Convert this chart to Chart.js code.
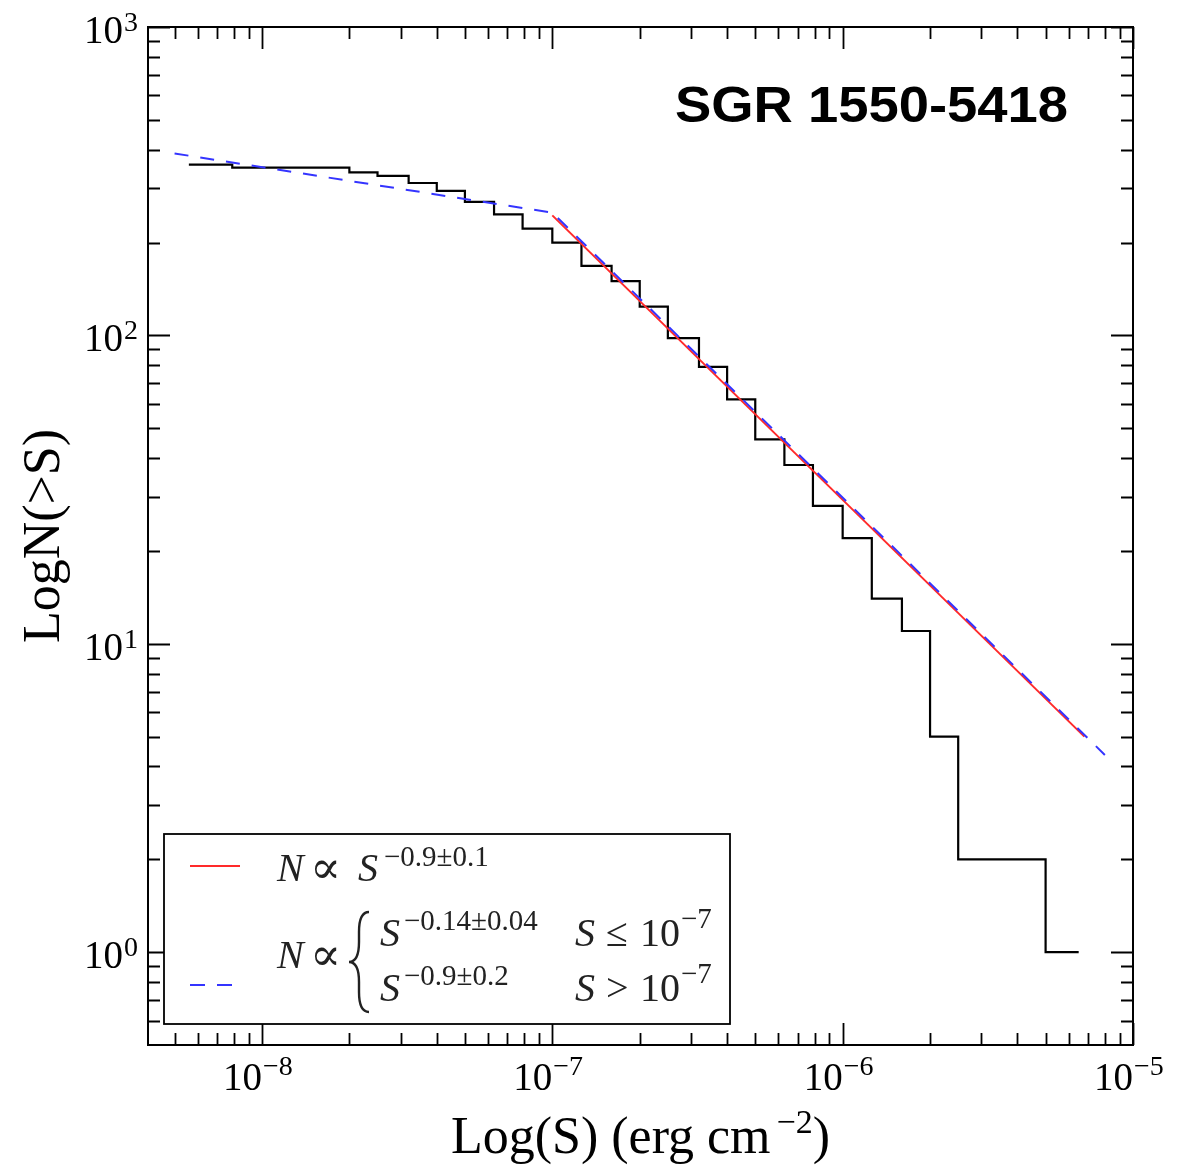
<!DOCTYPE html>
<html>
<head>
<meta charset="utf-8">
<script src="https://cdn.jsdelivr.net/npm/chart.js@4.4.0/dist/chart.umd.min.js"></script>
<style>
  html, body { margin: 0; padding: 0; background: #fff; }
  #wrap { width: 1188px; height: 1167px; }
</style>
</head>
<body>
<div id="wrap"><canvas id="lognChart" width="1188" height="1167"></canvas></div>
<script>
"use strict";

// Cumulative number of bursts above each fluence edge (erg cm^-2)
var fluenceEdges = [5.6e-9, 7.9e-9, 2.0e-8, 2.5e-8, 3.2e-8, 4.0e-8, 5.0e-8, 6.3e-8, 7.9e-8,
    1.0e-7, 1.26e-7, 1.6e-7, 2.0e-7, 2.5e-7, 3.2e-7, 4.0e-7, 5.0e-7, 6.3e-7, 7.9e-7,
    1.0e-6, 1.26e-6, 1.6e-6, 2.0e-6, 2.5e-6, 5.0e-6, 6.5e-6];
var cumulativeCounts = [358, 350, 338, 329, 312, 294, 271, 247, 222,
    200, 168, 150, 124, 98, 79, 62, 46, 38, 28,
    22, 14, 11, 5, 2, 1, 1];

// Single power law fit  N ~ S^-0.9
var singleFitS = [1.0e-7, 6.8e-6];
var singleFitN = [245, 5.0];

// Broken power law fit, break at 1e-7
var brokenFitS = [5.0e-9, 1.0e-7, 8.0e-6];
var brokenFitN = [389, 250, 4.36];

// Axis decades and their labels
var xDecades = [-8, -7, -6, -5];
var xTickExponents = ['\u22128', '\u22127', '\u22126', '\u22125'];
var yDecades = [0, 1, 2, 3];
var yTickExponents = ['0', '1', '2', '3'];

var RED = '#ff2a2a';
var BLUE = '#3434ff';
var SERIF = '"Liberation Serif", "DejaVu Serif", serif';

function toPoints(xs, ys) {
    return xs.map(function(x, i) { return { x: x, y: ys[i] }; });
}

function font(size, style) {
    return (style ? style + ' ' : '') + size + 'px ' + SERIF;
}

// draw a list of text runs at given positions
function drawRuns(ctx, runs) {
    runs.forEach(function(r) {
        ctx.font = r.f;
        ctx.textAlign = r.align || 'left';
        ctx.fillText(r.t, r.x, r.y);
    });
}

function drawBrace(ctx, x, top, bottom, w) {
    var mid = (top + bottom) / 2;
    var c = x + w / 2;
    ctx.beginPath();
    ctx.moveTo(x + w, top);
    ctx.quadraticCurveTo(c, top, c, top + w);
    ctx.lineTo(c, mid - w);
    ctx.quadraticCurveTo(c, mid, x, mid);
    ctx.quadraticCurveTo(c, mid, c, mid + w);
    ctx.lineTo(c, bottom - w);
    ctx.quadraticCurveTo(c, bottom, x + w, bottom);
    ctx.stroke();
}

var framePlugin = {
    id: 'frame',
    afterDraw: function(chart) {
        var ctx = chart.ctx;
        var a = chart.chartArea;
        var xs = chart.scales.x, ys = chart.scales.y;
        ctx.save();
        ctx.strokeStyle = '#000';
        ctx.fillStyle = '#000';

        // frame
        ctx.lineWidth = 2;
        ctx.strokeRect(a.left, a.top, a.right - a.left, a.bottom - a.top);

        // inward ticks on all four sides
        ctx.lineWidth = 1.8;
        var d, m, v, p, len;
        for (d = -9; d <= -5; d++) {
            for (m = 1; m <= 9; m++) {
                v = m * Math.pow(10, d);
                if (v < xs.min * 1.001 || v > xs.max * 1.001) continue;
                p = Math.round(xs.getPixelForValue(v)) + 0.5;
                len = m === 1 ? 22 : 12;
                ctx.beginPath();
                ctx.moveTo(p, a.bottom); ctx.lineTo(p, a.bottom - len);
                ctx.moveTo(p, a.top); ctx.lineTo(p, a.top + len);
                ctx.stroke();
            }
        }
        for (d = -1; d <= 3; d++) {
            for (m = 1; m <= 9; m++) {
                v = m * Math.pow(10, d);
                if (v < ys.min * 1.001 || v > ys.max * 1.001) continue;
                p = Math.round(ys.getPixelForValue(v)) + 0.5;
                len = m === 1 ? 22 : 12;
                ctx.beginPath();
                ctx.moveTo(a.left, p); ctx.lineTo(a.left + len, p);
                ctx.moveTo(a.right, p); ctx.lineTo(a.right - len, p);
                ctx.stroke();
            }
        }

        // tick labels
        ctx.textBaseline = 'alphabetic';
        xDecades.forEach(function(e, i) {
            var px = xs.getPixelForValue(Math.pow(10, e));
            drawRuns(ctx, [
                { t: '10', f: font(39), x: px, y: 1090, align: 'right' },
                { t: xTickExponents[i], f: font(28), x: px + 1, y: 1075 }
            ]);
        });
        yDecades.forEach(function(e, i) {
            var py = ys.getPixelForValue(Math.pow(10, e));
            ctx.font = font(28);
            var w = ctx.measureText(yTickExponents[i]).width;
            drawRuns(ctx, [
                { t: yTickExponents[i], f: font(28), x: 138, y: py + 4, align: 'right' },
                { t: '10', f: font(39), x: 137 - w, y: py + 16, align: 'right' }
            ]);
        });

        // x axis title with superscript
        ctx.font = font(52);
        var t1 = 'Log(S) (erg cm';
        var w1 = ctx.measureText(t1).width + 6;
        var w3 = ctx.measureText(')').width;
        ctx.font = font(34);
        var w2 = ctx.measureText('\u22122').width;
        var x0 = (a.left + a.right) / 2 - (w1 + w2 + w3) / 2;
        drawRuns(ctx, [
            { t: t1, f: font(52), x: x0, y: 1153 },
            { t: '\u22122', f: font(34), x: x0 + w1, y: 1133 },
            { t: ')', f: font(52), x: x0 + w1 + w2, y: 1153 }
        ]);

        // y axis title, rotated
        ctx.save();
        ctx.translate(59, (a.top + a.bottom) / 2);
        ctx.rotate(-Math.PI / 2);
        ctx.font = font(52);
        ctx.textAlign = 'center';
        ctx.fillText('LogN(>S)', 0, 0);
        ctx.restore();

        // source name
        ctx.save();
        ctx.font = 'bold 50px "Liberation Sans", Arial, sans-serif';
        ctx.textAlign = 'left';
        var tw = ctx.measureText('SGR 1550-5418').width;
        ctx.translate(675, 122);
        ctx.scale(393 / tw, 1);
        ctx.fillText('SGR 1550-5418', 0, 0);
        ctx.restore();

        // legend box
        ctx.fillStyle = '#fff';
        ctx.fillRect(164, 834, 566, 190);
        ctx.fillStyle = '#000';
        ctx.lineWidth = 1.8;
        ctx.strokeRect(164, 834, 566, 190);

        ctx.lineWidth = 2;
        ctx.strokeStyle = RED;
        ctx.beginPath(); ctx.moveTo(190, 866); ctx.lineTo(240, 866); ctx.stroke();
        ctx.strokeStyle = BLUE;
        ctx.setLineDash([15, 12]);
        ctx.beginPath(); ctx.moveTo(190, 985); ctx.lineTo(233, 985); ctx.stroke();
        ctx.setLineDash([]);

        ctx.fillStyle = '#222';
        drawRuns(ctx, [
            { t: 'N', f: font(40, 'italic'), x: 277, y: 881 },
            { t: '\u221d', f: font(46), x: 310, y: 883 },
            { t: 'S', f: font(40, 'italic'), x: 358, y: 881 },
            { t: '\u22120.9\u00b10.1', f: font(29), x: 384, y: 866 },

            { t: 'N', f: font(40, 'italic'), x: 277, y: 968 },
            { t: '\u221d', f: font(46), x: 310, y: 970 },

            { t: 'S', f: font(40, 'italic'), x: 380, y: 946 },
            { t: '\u22120.14\u00b10.04', f: font(29), x: 404, y: 930 },
            { t: 'S', f: font(40, 'italic'), x: 575, y: 946 },
            { t: '\u2264', f: font(40), x: 606, y: 946 },
            { t: '10', f: font(40), x: 640, y: 946 },
            { t: '\u22127', f: font(29), x: 681, y: 928 },

            { t: 'S', f: font(40, 'italic'), x: 380, y: 1001 },
            { t: '\u22120.9\u00b10.2', f: font(29), x: 404, y: 985 },
            { t: 'S', f: font(40, 'italic'), x: 575, y: 1001 },
            { t: '>', f: font(40), x: 606, y: 1001 },
            { t: '10', f: font(40), x: 640, y: 1001 },
            { t: '\u22127', f: font(29), x: 681, y: 983 }
        ]);
        ctx.strokeStyle = '#222';
        ctx.lineWidth = 2.4;
        drawBrace(ctx, 349, 912, 1012, 20);

        ctx.restore();
    }
};

var ctx = document.getElementById('lognChart').getContext('2d');
new Chart(ctx, {
    type: 'line',
    data: {
        datasets: [{
            label: 'broken power law',
            data: toPoints(brokenFitS, brokenFitN),
            borderColor: BLUE,
            borderWidth: 2,
            borderDash: [14, 12],
            pointRadius: 0,
            fill: false,
            order: 0
        }, {
            label: 'single power law',
            data: toPoints(singleFitS, singleFitN),
            borderColor: RED,
            borderWidth: 2,
            pointRadius: 0,
            fill: false,
            order: 1
        }, {
            label: 'N(>S)',
            data: toPoints(fluenceEdges, cumulativeCounts),
            borderColor: '#000',
            borderWidth: 2.2,
            stepped: 'before',
            pointRadius: 0,
            fill: false,
            order: 2
        }]
    },
    options: {
        responsive: false,
        animation: false,
        devicePixelRatio: 1,
        layout: { padding: { left: 148, right: 55, top: 27, bottom: 122 } },
        plugins: {
            legend: { display: false },
            tooltip: { enabled: false }
        },
        scales: {
            x: { type: 'logarithmic', min: 4.05e-9, max: 1e-5, display: false },
            y: { type: 'logarithmic', min: 0.5, max: 1000, display: false }
        }
    },
    plugins: [framePlugin]
});
</script>
</body>
</html>
